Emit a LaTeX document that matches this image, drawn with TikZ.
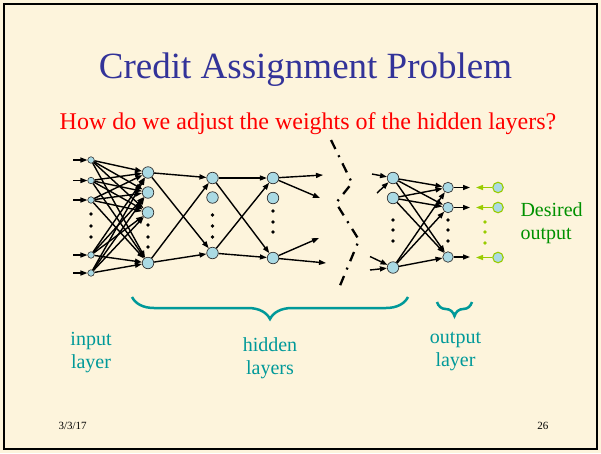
\documentclass[tikz,border=0pt]{standalone}
\usepackage{fontspec}
\setmainfont{Liberation Serif}
\usetikzlibrary{arrows.meta,decorations.pathreplacing}
\definecolor{bg}{RGB}{253,244,220}
\definecolor{titleblue}{RGB}{51,51,153}
\definecolor{tealc}{RGB}{0,153,153}
\definecolor{dgreen}{RGB}{0,145,0}
\definecolor{ygreen}{RGB}{153,204,0}
\definecolor{nodefill}{RGB}{170,218,228}
\begin{document}
\begin{tikzpicture}[x=1pt,y=-1pt,
  neu/.style={circle,draw=black!80,fill=nodefill,line width=0.7pt,inner sep=0pt,minimum size=11.5pt},
  inp/.style={circle,draw=black!80,fill=nodefill,line width=0.6pt,inner sep=0pt,minimum size=6.5pt},
  gneu/.style={circle,draw=ygreen,fill=nodefill,line width=1.1pt,inner sep=0pt,minimum size=10.5pt},
  arr/.style={-{Triangle[length=7pt,width=5pt]},line width=1.4pt},
  garr/.style={-{Triangle[length=7pt,width=5pt]},line width=1.4pt,draw=ygreen},
  vdot/.style={circle,fill=black,inner sep=0pt,minimum size=3.6pt},
  gdot/.style={circle,fill=ygreen,inner sep=0pt,minimum size=3.6pt},
  lbl/.style={text=tealc,font=\fontsize{20}{23}\selectfont,align=center},
  brc/.style={draw=tealc,line width=2.5pt,decorate},
  ddash/.style={line width=2.3pt,dash pattern=on 10pt off 7pt on 2pt off 7pt}
]
\useasboundingbox (0,0) rectangle (601,453);
\fill[bg] (0,0) rectangle (601,453);
\draw[line width=2.5pt] (4,4) rectangle (597,449);

% titles
\node[anchor=base,text=titleblue,font=\fontsize{37}{40}\selectfont] (title) at (305.5,78) {Credit Assignment Problem};
\node[anchor=base,text=red,font=\fontsize{24}{28}\selectfont] (sub) at (308,129) {How do we adjust the weights of the hidden layers?};

% input layer
\foreach \k/\y in {1/160,2/180.5,3/200,4/255,5/273}{
  \node[inp] (i\k) at (91,\y) {};
  \coordinate (ii\k) at (73,\y);
  \draw[arr] (ii\k) -- (i\k);
}
\foreach \k/\y in {1/214,2/226,3/237} \node[vdot] (id\k) at (91,\y) {};

% hidden layer 1
\foreach \k/\y in {1/172.5,2/192.5,3/212.5,4/263} \node[neu] (a\k) at (148,\y) {};
\foreach \k/\y in {1/225,2/237,3/247} \node[vdot] (ad\k) at (148,\y) {};
\foreach \i in {1,...,5}{\foreach \j in {1,...,4}{\draw[arr] (i\i) -- (a\j);}}

% hidden layer 2
\foreach \k/\y in {1/178,2/197.5,3/253} \node[neu] (b\k) at (212.5,\y) {};
\foreach \k/\y in {1/215,2/226,3/237} \node[vdot] (bd\k) at (212.5,\y) {};
\draw[arr] (a1) -- (b1); \draw[arr] (a1) -- (b3);
\draw[arr] (a4) -- (b1); \draw[arr] (a4) -- (b3);

% hidden layer 3
\foreach \k/\y in {1/178,2/198,3/258} \node[neu] (c\k) at (273,\y) {};
\foreach \k/\y in {1/211,2/222,3/232} \node[vdot] (cd\k) at (273,\y) {};
\draw[arr] (b1) -- (c1); \draw[arr] (b1) -- (c3);
\draw[arr] (b3) -- (c1); \draw[arr] (b3) -- (c3);
\coordinate (co1) at (323,175);
\coordinate (co2) at (320,198);
\coordinate (co3) at (319,238);
\coordinate (co4) at (326,263);
\draw[arr] (c1) -- (co1); \draw[arr] (c1) -- (co2);
\draw[arr] (c3) -- (co3); \draw[arr] (c3) -- (co4);

% dash-dot separator
\coordinate (z1) at (331,140);
\coordinate (z2) at (352,183);
\coordinate (z3) at (336,203);
\coordinate (z4) at (359,240);
\coordinate (z5) at (339,288);
\draw[ddash] (z1) -- (z2) -- (z3) -- (z4) -- (z5);

% last hidden layer
\foreach \k/\y in {1/178,2/198,3/267.5} \node[neu] (d\k) at (393,\y) {};
\foreach \k/\y in {1/220,2/230,3/241} \node[vdot] (dd\k) at (393,\y) {};
\coordinate (di1) at (372,174);
\coordinate (di2) at (377,193);
\coordinate (di3) at (370,256.5);
\coordinate (di4) at (370,270);
\draw[arr] (di1) -- (d1); \draw[arr] (di2) -- (d1);
\draw[arr] (di3) -- (d3); \draw[arr] (di4) -- (d3);

% output layer
\foreach \k/\y in {1/187.5,2/207.5,3/257} \node[neu,minimum size=10.5pt] (o\k) at (448,\y) {};
\foreach \k/\y in {1/220,2/230,3/241} \node[vdot] (od\k) at (448,\y) {};
\foreach \i in {1,2,3}{\foreach \j in {1,2,3}{\draw[arr] (d\i) -- (o\j);}}
\foreach \k/\y in {1/187.5,2/207.5,3/257}{
  \coordinate (oo\k) at (470,\y);
  \draw[arr] (o\k) -- (oo\k);
}

% desired outputs
\foreach \k/\y in {1/187.5,2/207.5,3/257.5}{
  \node[gneu] (g\k) at (498,\y) {};
  \coordinate (gg\k) at (476,\y);
  \draw[garr] (g\k) -- (gg\k);
}
\foreach \k/\y in {1/222,2/232,3/243} \node[gdot] (gd\k) at (485,\y) {};
\node[anchor=base west,text=dgreen,font=\fontsize{20}{23}\selectfont] (des1) at (517,216) {Desired};
\node[anchor=base west,text=dgreen,font=\fontsize{20}{23}\selectfont] (des2) at (517,239) {output};

% braces
\coordinate (br1a) at (408,297);
\coordinate (br1b) at (132,297);
\draw[brc,decoration={brace,amplitude=22pt}] (br1a) -- (br1b);
\coordinate (br2a) at (472,302);
\coordinate (br2b) at (437,302);
\draw[brc,decoration={brace,amplitude=14pt}] (br2a) -- (br2b);

% labels
\node[lbl] (linput) at (91,352.5) {input\\layer};
\node[lbl] (lhidden) at (270,358) {hidden\\layers};
\node[lbl] (loutput) at (455.5,352) {output\\layer};

% footer
\node[anchor=base west,font=\fontsize{11}{13}\selectfont] (date) at (55,429) {3/3/17};
\node[anchor=base east,font=\fontsize{11}{13}\selectfont] (page) at (552,429) {26};
\end{tikzpicture}
\end{document}
